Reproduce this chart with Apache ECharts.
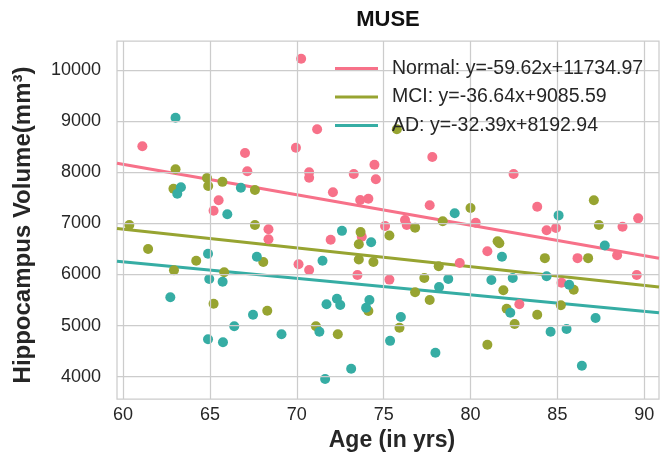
<!DOCTYPE html>
<html>
<head>
<meta charset="utf-8">
<script src="https://cdn.jsdelivr.net/npm/echarts@6/dist/echarts.min.js"></script>
<style>html,body{margin:0;padding:0;background:#fff}#c{width:660px;height:458px}</style>
</head>
<body>
<div id="c"></div>
<script>
const groupNames = ['Normal', 'MCI', 'AD'];
const groupColors = ['#f77189', '#97a431', '#36ada4'];
const fitSlope = [-59.62, -36.64, -32.39];
const fitIntercept = [11734.97, 9085.59, 8192.94];
const fitLabels = ['Normal: y=-59.62x+11734.97', 'MCI: y=-36.64x+9085.59', 'AD: y=-32.39x+8192.94'];

const xTickValues = [60, 65, 70, 75, 80, 85, 90];
const yTickValues = [4000, 5000, 6000, 7000, 8000, 9000, 10000];

const normalPoints = [
  [61.11,8511],[65.5,7453],[65.21,7250],[67.02,8380],[67.15,8021],[68.37,6885],[68.37,6689],
  [69.95,8484],[70.25,10227],[70.1,6200],[70.71,8002],[70.71,7896],[70.71,6088],[71.17,8844],
  [71.95,6680],[72.08,7610],[73.28,7969],[73.65,7459],[74.12,7485],[73.74,6740],[73.49,5990],
  [74.47,8151],[74.55,7865],[75.08,6950],[75.33,5900],[76.23,7067],[76.33,6969],[77.65,7358],
  [77.8,8302],[79.38,6225],[80.3,7015],[80.97,6454],[82.48,7969],[82.81,5416],[83.84,7328],
  [84.38,6866],[84.92,6911],[85.24,5840],[86.16,6320],[88.44,6376],[88.75,6936],[89.57,5990],
  [89.65,7100]
];
const mciPoints = [
  [60.36,6969],[61.44,6499],[62.93,6082],[63.02,8060],[62.9,7680],[64.21,6270],[64.83,7890],
  [64.9,7733],[65.72,7815],[65.82,6043],[65.21,5427],[67.59,7655],[67.59,6969],[68.07,6245],
  [68.3,5290],[71.1,4985],[72.36,4828],[73.67,6830],[73.57,6591],[73.57,6295],[74.41,6245],
  [74.12,5285],[75.76,8844],[75.33,6765],[75.91,4958],[76.81,6918],[76.81,5651],[77.34,5931],
  [77.65,5500],[78.17,6160],[78.4,7042],[80.0,7302],[80.97,4625],[81.56,6650],[81.66,6611],
  [81.89,5690],[82.08,5330],[82.54,5030],[83.84,5212],[84.28,6320],[85.2,5396],[85.94,5700],
  [86.77,6320],[87.1,7453],[87.39,6969]
];
const adPoints = [
  [62.72,5553],[63.02,9071],[63.33,7710],[63.12,7580],[64.89,6407],[64.96,5911],[65.73,5859],
  [64.89,4730],[65.75,4671],[66.0,7180],[66.78,7700],[66.4,4985],[67.7,6348],[67.48,5212],
  [69.12,4828],[71.48,6270],[71.3,4879],[71.71,5416],[72.31,5526],[72.5,5402],[71.63,3952],
  [72.6,6855],[73.13,4154],[74.28,6630],[74.18,5500],[73.99,5349],[75.37,4700],[75.99,5167],
  [77.98,4468],[78.19,5755],[78.72,5911],[79.09,7200],[81.2,5892],[81.81,6348],[82.29,5251],
  [82.43,5931],[84.38,5965],[84.61,4879],[85.07,7158],[85.53,4932],[85.68,5800],[86.41,4213],
  [87.2,5148],[87.73,6568]
];
const groupPoints = [normalPoints, mciPoints, adPoints];

const xMin = 59.65, xMax = 90.85;
const yMin = 3561, yMax = 10574;

const font = 'Liberation Sans, Arial, sans-serif';
const gridStyle = { color: '#cccccc', width: 1.25, type: 'solid' };

const series = [{
  name: 'grid', type: 'line', data: [], silent: true, z: 1,
  markLine: {
    silent: true, symbol: 'none', animation: false,
    label: { show: false }, lineStyle: gridStyle, emphasis: { disabled: true },
    data: xTickValues.map(v => ({ xAxis: v })).concat(yTickValues.map(v => ({ yAxis: v })))
  }
}];
groupNames.forEach((g, i) => {
  series.push({
    name: g, type: 'scatter', data: groupPoints[i], symbolSize: 10, z: 2,
    itemStyle: { color: groupColors[i], opacity: 1 }, silent: true
  });
  series.push({
    name: fitLabels[i], type: 'line', symbol: 'none', silent: true, z: 2,
    data: [[xMin, fitSlope[i] * xMin + fitIntercept[i]], [xMax, fitSlope[i] * xMax + fitIntercept[i]]],
    lineStyle: { color: groupColors[i], width: 3 }, itemStyle: { color: groupColors[i] }
  });
});

const chart = echarts.init(document.getElementById('c'), null, { renderer: 'canvas' });
chart.setOption({
  animation: false,
  backgroundColor: '#ffffff',
  title: {
    text: 'MUSE', left: 388, top: 9, textAlign: 'center', padding: 0,
    textStyle: { fontFamily: font, fontWeight: 'bold', fontSize: 22, color: '#111' }
  },
  legend: {
    data: fitLabels, orient: 'vertical', left: 330, top: 53, z: 100,
    icon: 'rect', itemWidth: 43, itemHeight: 3, itemGap: 7.5,
    textStyle: { fontFamily: font, fontSize: 19.5, color: '#262626', padding: [0, 0, 0, 9], lineHeight: 21 },
    selectedMode: false
  },
  grid: {
    left: 117, right: 1, top: 41, bottom: 59, show: true,
    borderColor: '#cccccc', borderWidth: 1.25, containLabel: false
  },
  xAxis: {
    type: 'value', min: xMin, max: xMax,
    name: 'Age (in yrs)', nameLocation: 'middle', nameGap: 30,
    nameTextStyle: { fontFamily: font, fontWeight: 'bold', fontSize: 23, color: '#262626', padding: [0, 0, 0, 8] },
    axisLine: { show: false }, axisTick: { show: false, customValues: xTickValues },
    axisLabel: { fontFamily: font, fontSize: 18, color: '#262626', margin: 7, customValues: xTickValues },
    splitLine: { show: false }
  },
  yAxis: {
    type: 'value', min: yMin, max: yMax,
    name: 'Hippocampus Volume(mm³)', nameLocation: 'middle', nameGap: 82, nameRotate: 90,
    nameTextStyle: { fontFamily: font, fontWeight: 'bold', fontSize: 24, color: '#262626', padding: [0, 10, 0, 0] },
    axisLine: { show: false }, axisTick: { show: false, customValues: yTickValues },
    axisLabel: { fontFamily: font, fontSize: 18, color: '#262626', margin: 16, customValues: yTickValues,
      formatter: v => String(v) },
    splitLine: { show: false }
  },
  series: series
});
</script>
</body>
</html>
